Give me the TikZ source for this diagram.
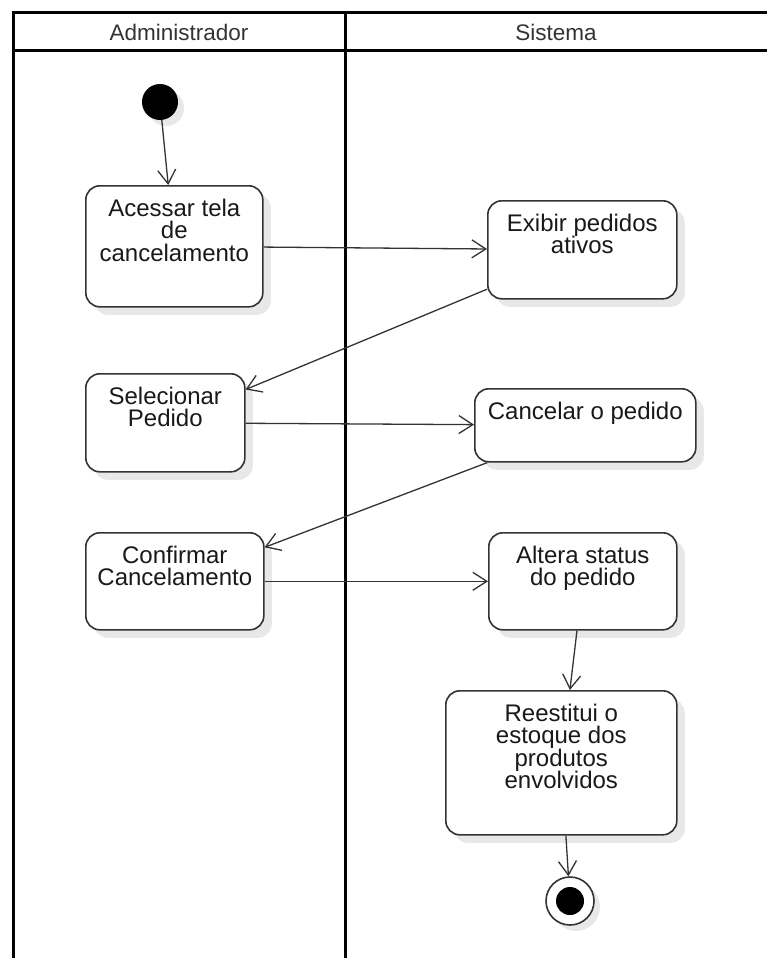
\documentclass[tikz,border=0pt]{standalone}
\usepackage{fontspec}
\setmainfont{Liberation Sans}
\usetikzlibrary{arrows.meta,shadows,positioning}
\definecolor{edgegray}{RGB}{51,51,51}
\newcommand{\acttext}[3]{\parbox[c][#2pt][t]{#1pt}{\centering\fontsize{24}{22.5}\selectfont\vspace*{13pt}#3}}
\tikzset{
    act/.style = {draw=edgegray, rounded corners=14pt, line width=1.6pt, fill=white,
        inner sep=0pt, anchor=north west, text=black!90,
        drop shadow={shadow xshift=8pt, shadow yshift=-8pt, fill=black!9, opacity=1}},
    start/.style = {circle, fill=black, minimum size=36pt, inner sep=0pt,
        drop shadow={shadow xshift=6pt, shadow yshift=-6pt, fill=black!9, opacity=1}},
    stop/.style = {circle, draw=edgegray, line width=1.6pt, fill=white, minimum size=48pt, inner sep=0pt,
        drop shadow={shadow xshift=6pt, shadow yshift=-6pt, fill=black!9, opacity=1}},
    stopdot/.style = {circle, fill=black, minimum size=28pt, inner sep=0pt},
    lane/.style = {line width=3pt, black},
    lanetitle/.style = {font=\fontsize{22.5}{24}\selectfont, text=black!80},
    flow/.style = {draw, edgegray, line width=1.3pt,
        -{Straight Barb[length=14pt, width=18pt, line width=1.3pt]}}
}

\begin{document}
\begin{tikzpicture}[x=1pt, y=-1pt]
    \useasboundingbox (0,0) rectangle (767,958);
    % pool and lanes
    \draw[lane] (13,958) |- (767,13);
    \draw[lane] (13,51) -- (767,51);
    \draw[lane] (345,13) -- (345,958);
    \node[lanetitle] (admin) at (179,32) {Administrador};
    \node[lanetitle] (sistema) at (556,32) {Sistema};
    % activities
    \node[start] (begin) at (160,102) {};
    \node[act] (acessar) at (85,185) {\acttext{177}{121}{Acessar tela\\de\\cancelamento}};
    \node[act] (exibir) at (487,200) {\acttext{189}{98}{Exibir pedidos\\ativos}};
    \node[act] (selecionar) at (85,373) {\acttext{159}{98}{Selecionar\\Pedido}};
    \node[act] (cancelar) at (474,388) {\acttext{221}{73}{Cancelar o pedido}};
    \node[act] (confirmar) at (85,532) {\acttext{178}{97}{Confirmar\\Cancelamento}};
    \node[act] (altera) at (488,532) {\acttext{188}{97}{Altera status\\do pedido}};
    \node[act] (reestitui) at (445,690) {\acttext{231}{144}{Reestitui o\\estoque dos\\produtos\\envolvidos}};
    \node[stop] (end) at (570,901) {};
    \node[stopdot] (enddot) at (end) {};
    % flows
    \draw[flow] (begin) -- (acessar);
    \draw[flow] (acessar) -- (exibir);
    \draw[flow] (exibir) -- (selecionar);
    \draw[flow] (selecionar) -- (cancelar);
    \draw[flow] (cancelar) -- (confirmar);
    \draw[flow] (confirmar) -- (altera);
    \draw[flow] (altera) -- (reestitui);
    \draw[flow] (reestitui) -- (end);
\end{tikzpicture}
\end{document}
